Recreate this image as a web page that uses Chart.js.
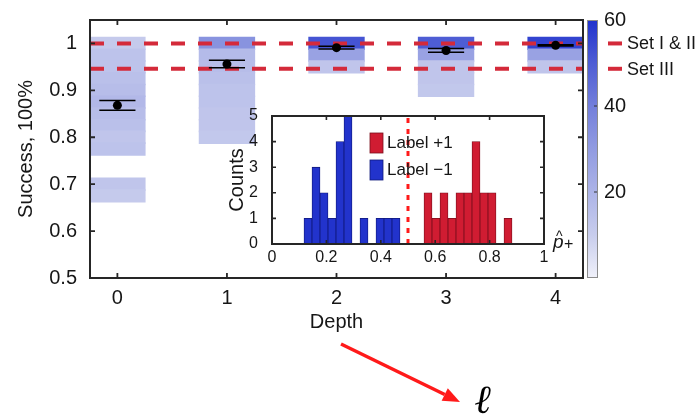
<!DOCTYPE html>
<html><head><meta charset="utf-8">
<script src="https://cdn.jsdelivr.net/npm/chart.js@4/dist/chart.umd.min.js"></script>
<style>
html,body{margin:0;padding:0;background:#fff;}
#wrap{position:relative;width:698px;height:414px;overflow:hidden;background:#fff;}
#main{position:absolute;left:0;top:0;}
#inset{position:absolute;left:215px;top:100px;}
</style></head><body>
<div id="wrap">
<canvas id="main" width="698" height="414"></canvas>
<canvas id="inset" width="370" height="175"></canvas>
</div>
<script>
// ---------------- data ----------------
const depths = [0, 1, 2, 3, 4];
const depthTickLabels = ['0', '1', '2', '3', '4'];
const successTicks = [0.5, 0.6, 0.7, 0.8, 0.9, 1];
const successTickLabels = ['0.5', '0.6', '0.7', '0.8', '0.9', '1'];
const cellSize = 0.025;
const depth0Bins = [1.000, 0.975, 0.950, 0.925, 0.900, 0.875, 0.850, 0.825, 0.800, 0.775, 0.700, 0.675];
const depth0Counts = [11, 14, 14, 15, 16, 18, 16, 15, 13, 14, 13, 11];
const depth1Bins = [1.000, 0.975, 0.950, 0.925, 0.900, 0.875, 0.850, 0.825, 0.800];
const depth1Counts = [33, 17, 16, 15, 14, 14, 13, 13, 12];
const depth2Bins = [1.000, 0.975, 0.950];
const depth2Counts = [52, 27, 13];
const depth3Bins = [1.000, 0.975, 0.950, 0.925, 0.900];
const depth3Counts = [50, 27, 13, 13, 12];
const depth4Bins = [1.000, 0.975, 0.950];
const depth4Counts = [56, 27, 13];
const meanSuccess = [0.868, 0.956, 0.991, 0.985, 0.996];
const errSuccess = [0.0105, 0.008, 0.003, 0.004, 0.0015];
const thresholdValues = [1.0, 0.946];
const thresholdLabels = ['Set I & II', 'Set III'];
const colorbarTicks = [20, 40, 60];
const colorbarTickLabels = ['20', '40', '60'];

const histBinCenters = [0.13235, 0.16176, 0.19118, 0.22059, 0.25000, 0.27941, 0.30882, 0.33824, 0.36765,
  0.39706, 0.42647, 0.45588, 0.48529, 0.51471, 0.54412, 0.57353, 0.60294, 0.63235, 0.66176, 0.69118,
  0.72059, 0.75000, 0.77941, 0.80882, 0.83824, 0.86765, 0.89706];
const countsMinus = [1, 3, 2, 1, 4, 5, 0, 1, 0, 1, 1, 1, 0, 0, 0, 0, 0, 0, 0, 0, 0, 0, 0, 0, 0, 0, 0];
const countsPlus  = [0, 0, 0, 0, 0, 0, 0, 0, 0, 0, 0, 0, 0, 0, 0, 2, 1, 2, 1, 2, 2, 4, 2, 2, 0, 1, 0];
const histLabels = ['Label +1', 'Label \u22121'];
const histXTicks = [0, 0.2, 0.4, 0.6, 0.8, 1];
const histXTickLabels = ['0', '0.2', '0.4', '0.6', '0.8', '1'];
const histYTicks = [0, 1, 2, 3, 4, 5];
const histYTickLabels = ['0', '1', '2', '3', '4', '5'];
const decisionBoundary = 0.5;

// ---------------- styles ----------------
const FONT = '"Liberation Sans", Arial, Helvetica, sans-serif';
const INK = '#161616';
const cmapStops = [[0, [240, 241, 250]], [10, [200, 205, 237]], [20, [172, 179, 231]], [30, [145, 155, 225]],
  [40, [115, 127, 219]], [50, [78, 93, 212]], [60, [32, 50, 205]]];
function cmap(v) {
  v = Math.max(0, Math.min(60, v));
  for (let i = 1; i < cmapStops.length; i++) {
    const [a, ca] = cmapStops[i - 1], [b, cbb] = cmapStops[i];
    if (v <= b) {
      const t = (v - a) / (b - a);
      const c = ca.map((q, j) => Math.round(q + (cbb[j] - q) * t));
      return `rgb(${c[0]},${c[1]},${c[2]})`;
    }
  }
}
const noPad = s => { s.paddingTop = 0; s.paddingBottom = 0; };

const allBins = [depth0Bins, depth1Bins, depth2Bins, depth3Bins, depth4Bins];
const allCounts = [depth0Counts, depth1Counts, depth2Counts, depth3Counts, depth4Counts];
const cells = [];
depths.forEach((d, i) => allBins[i].forEach((c, j) =>
  cells.push({x: d, y: [c - cellSize / 2, c + cellSize / 2], count: allCounts[i][j]})));

const capHalf = 0.165;
const errPts = [];
depths.forEach((d, i) => [1, -1].forEach(s => {
  const v = meanSuccess[i] + s * errSuccess[i];
  errPts.push({x: d - capHalf, y: v}, {x: d + capHalf, y: v}, {x: d, y: null});
}));

const threshDatasets = thresholdValues.map((v, i) => ({
  type: 'line', label: thresholdLabels[i], data: [{x: -0.25, y: v}, {x: 4.25, y: v}],
  borderColor: '#d42a3a', borderWidth: 4, borderDash: [14, 13], pointRadius: 0, order: 3, yAxisID: 'y'
}));

const mainFrame = {
  id: 'mainFrame',
  afterDatasetsDraw(chart) {
    const {ctx, chartArea: a, scales: {x, y, cb}} = chart;
    ctx.save();
    ctx.strokeStyle = '#262626';
    ctx.lineWidth = 2;
    ctx.strokeRect(a.left, a.top, a.right - a.left, a.bottom - a.top);
    ctx.lineWidth = 1.8;
    const tl = 5;
    ctx.beginPath();
    depths.forEach(d => {
      const px = x.getPixelForValue(d);
      ctx.moveTo(px, a.bottom); ctx.lineTo(px, a.bottom - tl);
      ctx.moveTo(px, a.top); ctx.lineTo(px, a.top + tl);
    });
    successTicks.forEach(v => {
      const py = y.getPixelForValue(v);
      ctx.moveTo(a.left, py); ctx.lineTo(a.left + tl, py);
      ctx.moveTo(a.right, py); ctx.lineTo(a.right - tl, py);
    });
    ctx.stroke();
    // colorbar
    const x0 = a.right + 4, w = 11;
    const yt = cb.getPixelForValue(60), yb = cb.getPixelForValue(0);
    const g = ctx.createLinearGradient(0, yb, 0, yt);
    cmapStops.forEach(([v]) => g.addColorStop(v / 60, cmap(v)));
    ctx.fillStyle = g;
    ctx.fillRect(x0, yt, w, yb - yt);
    ctx.strokeStyle = '#8c8c8c';
    ctx.lineWidth = 1;
    ctx.strokeRect(x0 + 0.5, yt + 0.5, w - 1, yb - yt - 1);
    ctx.strokeStyle = '#333';
    ctx.beginPath();
    colorbarTicks.slice(0, 2).forEach(v => {
      const py = cb.getPixelForValue(v);
      ctx.moveTo(x0 + w - 1, py); ctx.lineTo(x0 + w - 4, py);
    });
    ctx.stroke();
    // threshold legend
    thresholdValues.forEach((v, i) => {
      const py = y.getPixelForValue(v);
      ctx.strokeStyle = '#d42a3a';
      ctx.lineWidth = 4;
      ctx.beginPath();
      ctx.moveTo(a.right + 25, py); ctx.lineTo(a.right + 39, py);
      ctx.stroke();
      ctx.fillStyle = INK;
      ctx.font = '18px ' + FONT;
      ctx.textAlign = 'left';
      ctx.textBaseline = 'middle';
      ctx.fillText(thresholdLabels[i], a.right + 44, py + 1);
    });
    ctx.restore();
  },
  afterDraw(chart) {
    const ctx = chart.ctx;
    ctx.save();
    // arrow
    const x1 = 341, y1 = 344, x2 = 460, y2 = 402;
    const ang = Math.atan2(y2 - y1, x2 - x1);
    const hl = 17, hw = 7;
    const bx = x2 - hl * Math.cos(ang), by = y2 - hl * Math.sin(ang);
    ctx.strokeStyle = '#ff1a1a';
    ctx.fillStyle = '#ff1a1a';
    ctx.lineWidth = 3.5;
    ctx.beginPath(); ctx.moveTo(x1, y1); ctx.lineTo(bx, by); ctx.stroke();
    ctx.beginPath();
    ctx.moveTo(x2, y2);
    ctx.lineTo(bx + hw * Math.sin(ang), by - hw * Math.cos(ang));
    ctx.lineTo(bx - hw * Math.sin(ang), by + hw * Math.cos(ang));
    ctx.closePath(); ctx.fill();
    ctx.fillStyle = '#000';
    ctx.font = 'italic bold 40px "DejaVu Serif", serif';
    ctx.textAlign = 'left';
    ctx.textBaseline = 'alphabetic';
    ctx.fillText('\u2113', 475, 413);
    ctx.restore();
  }
};

new Chart(document.getElementById('main'), {
  type: 'bar',
  data: {
    datasets: [
      {type: 'scatter', data: meanSuccess.map((m, i) => ({x: depths[i], y: m})), pointRadius: 4.5,
        pointBackgroundColor: '#000', pointBorderWidth: 0, order: 1, yAxisID: 'y'},
      {type: 'line', data: errPts, borderColor: '#000', borderWidth: 1.5, pointRadius: 0, spanGaps: false,
        order: 2, yAxisID: 'y'},
      ...threshDatasets,
      {type: 'bar', data: cells, backgroundColor: c => cmap(c.raw ? c.raw.count : 0), borderWidth: 0,
        inflateAmount: 0.8, barPercentage: 0.5, categoryPercentage: 1, grouped: false, order: 5, yAxisID: 'y'}
    ]
  },
  options: {
    responsive: false, animation: false, devicePixelRatio: 1,
    layout: {padding: {left: 0, top: 20, right: 0, bottom: 80}},
    plugins: {legend: {display: false}, tooltip: {enabled: false}},
    scales: {
      x: {type: 'linear', min: -0.25, max: 4.25, offset: false,
        afterBuildTicks: s => { s.ticks = depths.map(v => ({value: v})); },
        ticks: {callback: (v, i) => depthTickLabels[i], font: {size: 20, family: FONT}, color: INK,
          padding: 8, maxRotation: 0, autoSkip: false},
        grid: {display: false, drawTicks: false}, border: {display: false},
        title: {display: true, text: 'Depth', font: {size: 20, family: FONT}, color: INK, padding: 0},
        afterFit: s => { s.height = 56; s.paddingLeft = 0; s.paddingRight = 0; }},
      y: {type: 'linear', min: 0.5, max: 1.05,
        afterBuildTicks: s => { s.ticks = successTicks.map(v => ({value: v})); },
        ticks: {callback: (v, i) => successTickLabels[i], font: {size: 20, family: FONT}, color: INK, padding: 13},
        grid: {display: false, drawTicks: false}, border: {display: false},
        title: {display: true, text: 'Success, 100%', font: {size: 20, family: FONT}, color: INK, padding: {top: 14, bottom: 0}},
        afterFit: s => { s.width = 90; noPad(s); }},
      cb: {type: 'linear', position: 'right', min: 0, max: 60,
        afterBuildTicks: s => { s.ticks = colorbarTicks.map(v => ({value: v})); },
        ticks: {callback: (v, i) => colorbarTickLabels[i], font: {size: 20, family: FONT}, color: INK, padding: 21},
        grid: {display: false, drawTicks: false}, border: {display: false},
        afterFit: s => { s.width = 115; noPad(s); }}
    }
  },
  plugins: [mainFrame]
});

// ---------------- inset histogram ----------------
const insetFrame = {
  id: 'insetFrame',
  afterDatasetsDraw(chart) {
    const {ctx, chartArea: a, scales: {x, y}} = chart;
    ctx.save();
    ctx.strokeStyle = '#262626';
    ctx.lineWidth = 2;
    ctx.strokeRect(a.left, a.top, a.right - a.left, a.bottom - a.top);
    ctx.lineWidth = 1.6;
    const tl = 4;
    ctx.beginPath();
    histXTicks.forEach(v => {
      const px = x.getPixelForValue(v);
      ctx.moveTo(px, a.bottom); ctx.lineTo(px, a.bottom - tl);
      ctx.moveTo(px, a.top); ctx.lineTo(px, a.top + tl);
    });
    histYTicks.forEach(v => {
      const py = y.getPixelForValue(v);
      ctx.moveTo(a.left, py); ctx.lineTo(a.left + tl, py);
      ctx.moveTo(a.right, py); ctx.lineTo(a.right - tl, py);
    });
    ctx.stroke();
    // legend
    const cols = ['#d01c32', '#2233cc'], edges = ['#7a0f1c', '#10197a'];
    histLabels.forEach((t, i) => {
      const top = a.top + 17 + i * 27;
      ctx.fillStyle = cols[i];
      ctx.fillRect(a.left + 98, top, 13, 20);
      ctx.strokeStyle = edges[i];
      ctx.lineWidth = 0.8;
      ctx.strokeRect(a.left + 98, top, 13, 20);
      ctx.fillStyle = INK;
      ctx.font = '17px ' + FONT;
      ctx.textAlign = 'left';
      ctx.textBaseline = 'middle';
      ctx.fillText(t, a.left + 115, top + 10);
    });
    // x label p-hat +
    ctx.fillStyle = INK;
    ctx.font = 'italic 19px ' + FONT;
    ctx.textBaseline = 'alphabetic';
    const lx = a.right + 9, ly = a.bottom + 4;
    ctx.fillText('p', lx, ly);
    ctx.font = '14px ' + FONT;
    ctx.fillText('^', lx + 3, ly - 7);
    ctx.font = '16px ' + FONT;
    ctx.fillText('+', lx + 11, ly + 1);
    ctx.restore();
  }
};

new Chart(document.getElementById('inset'), {
  type: 'bar',
  data: {
    datasets: [
      {type: 'line', data: [{x: decisionBoundary, y: 0}, {x: decisionBoundary, y: 5}], borderColor: '#ff1a1a',
        borderWidth: 3, borderDash: [5, 6], pointRadius: 0, order: 1},
      {label: histLabels[0], data: histBinCenters.map((c, i) => ({x: c, y: countsPlus[i]})),
        backgroundColor: '#d01c32', borderColor: '#7a0f1c', borderWidth: 0.8, borderSkipped: false,
        barPercentage: 1, categoryPercentage: 1, grouped: false, order: 2},
      {label: histLabels[1], data: histBinCenters.map((c, i) => ({x: c, y: countsMinus[i]})),
        backgroundColor: '#2233cc', borderColor: '#10197a', borderWidth: 0.8, borderSkipped: false,
        barPercentage: 1, categoryPercentage: 1, grouped: false, order: 3}
    ]
  },
  options: {
    responsive: false, animation: false, devicePixelRatio: 1,
    layout: {padding: {left: 0, top: 16, right: 41, bottom: 0}},
    plugins: {legend: {display: false}, tooltip: {enabled: false}},
    scales: {
      x: {type: 'linear', min: 0, max: 1, offset: false,
        afterBuildTicks: s => { s.ticks = histXTicks.map(v => ({value: v})); },
        ticks: {callback: (v, i) => histXTickLabels[i], font: {size: 16, family: FONT}, color: INK,
          padding: 4, maxRotation: 0, autoSkip: false},
        grid: {display: false, drawTicks: false}, border: {display: false},
        afterFit: s => { s.height = 31; s.paddingLeft = 0; s.paddingRight = 0; }},
      y: {type: 'linear', min: 0, max: 5,
        afterBuildTicks: s => { s.ticks = histYTicks.map(v => ({value: v})); },
        ticks: {callback: (v, i) => histYTickLabels[i], font: {size: 16, family: FONT}, color: INK, padding: 14},
        grid: {display: false, drawTicks: false}, border: {display: false},
        title: {display: true, text: 'Counts', font: {size: 20, family: FONT}, color: INK, padding: {top: 10, bottom: 0}},
        afterFit: s => { s.width = 57; noPad(s); }}
    }
  },
  plugins: [insetFrame]
});
</script>
</body></html>
